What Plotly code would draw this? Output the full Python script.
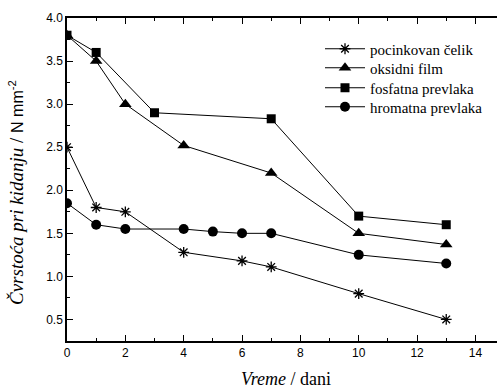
import plotly.graph_objects as go

x_pocink = [0, 1, 2, 4, 6, 7, 10, 13]
y_pocink = [2.5, 1.8, 1.75, 1.28, 1.18, 1.11, 0.8, 0.5]

x_oksid = [0, 1, 2, 4, 7, 10, 13]
y_oksid = [3.8, 3.5, 3.0, 2.52, 2.2, 1.5, 1.37]

x_fosf = [0, 1, 3, 7, 10, 13]
y_fosf = [3.8, 3.6, 2.9, 2.83, 1.7, 1.6]

x_hrom = [0, 1, 2, 4, 5, 6, 7, 10, 13]
y_hrom = [1.85, 1.6, 1.55, 1.55, 1.52, 1.5, 1.5, 1.25, 1.15]

names = ["pocinkovan čelik", "oksidni film", "fosfatna prevlaka", "hromatna prevlaka"]

x_ticks = [0, 2, 4, 6, 8, 10, 12, 14]
y_ticks = [0.5, 1.0, 1.5, 2.0, 2.5, 3.0, 3.5, 4.0]

L, T, B, W, H = 67, 18, 47, 497, 388
PW, PH = W - L, H - T - B

fig = go.Figure()
line = dict(color="black", width=1)
legend_ids = ["legend", "legend2", "legend3", "legend4"]
fig.add_trace(go.Scatter(x=x_pocink, y=y_pocink, name=names[0], mode="lines+markers", legend=legend_ids[0],
                         line=line, marker=dict(symbol="asterisk-open", size=9, color="black",
                                                line=dict(color="black", width=1.3))))
fig.add_trace(go.Scatter(x=x_oksid, y=y_oksid, name=names[1], mode="lines+markers", legend=legend_ids[1],
                         line=line, marker=dict(symbol="triangle-up", size=11, color="black")))
fig.add_trace(go.Scatter(x=x_fosf, y=y_fosf, name=names[2], mode="lines+markers", legend=legend_ids[2],
                         line=line, marker=dict(symbol="square", size=9, color="black")))
fig.add_trace(go.Scatter(x=x_hrom, y=y_hrom, name=names[3], mode="lines+markers", legend=legend_ids[3],
                         line=line, marker=dict(symbol="circle", size=10, color="black")))

row_y = [49, 68, 88, 107]
leg_common = dict(xanchor="left", yanchor="middle",
                  font=dict(family="Liberation Serif", size=15, color="black"),
                  bgcolor="rgba(0,0,0,0)", itemwidth=40)
legends = {}
for lid, ry in zip(legend_ids, row_y):
    legends[lid] = dict(leg_common, x=(320 - L) / PW, y=(H - B - ry) / PH)

fig.update_layout(
    width=W, height=H,
    margin=dict(l=L, r=0, t=T, b=B),
    plot_bgcolor="white", paper_bgcolor="white",
    showlegend=True,
    font=dict(family="Liberation Sans", size=12, color="black"),
    **legends,
)
fig.update_xaxes(range=[0, 14.74], tickvals=x_ticks, ticks="inside", ticklen=6,
                 tickwidth=1.2, tickcolor="black", showline=True, linecolor="black", linewidth=1.5,
                 mirror="ticks", showgrid=False, zeroline=False,
                 minor=dict(dtick=1, ticks="inside", ticklen=3, tickcolor="black", tickwidth=1),
                 tickfont=dict(family="Liberation Sans", size=12))
fig.update_yaxes(range=[0.25, 4.0], tickvals=y_ticks, ticktext=[f"{v:.1f}" for v in y_ticks],
                 ticks="inside", ticklen=6, tickwidth=1.2, tickcolor="black", showline=True,
                 linecolor="black", linewidth=1.5, showgrid=False, zeroline=False,
                 minor=dict(dtick=0.25, tick0=0.25, ticks="inside", ticklen=3, tickcolor="black", tickwidth=1),
                 tickfont=dict(family="Liberation Sans", size=12))

fig.add_annotation(xref="paper", yref="paper", x=(286 - L) / PW, y=-(379 - (H - B)) / PH,
                   text="<i>Vreme</i> / dani", showarrow=False, xanchor="center", yanchor="middle",
                   font=dict(family="Liberation Serif", size=18, color="black"))
fig.add_annotation(xref="paper", yref="paper", x=-(L - 16) / PW, y=(H - B - 193) / PH,
                   text="<i>Čvrstoća pri kidanju</i> / <span style='font-family:Liberation Sans;font-size:16px'>N mm<sup>-2</sup></span>",
                   showarrow=False, textangle=-90, xanchor="center", yanchor="middle",
                   font=dict(family="Liberation Serif", size=19, color="black"))

fig.write_html("out.html", config={"displayModeBar": False},
               post_script="document.body.style.margin='0';document.body.style.overflow='hidden';")
